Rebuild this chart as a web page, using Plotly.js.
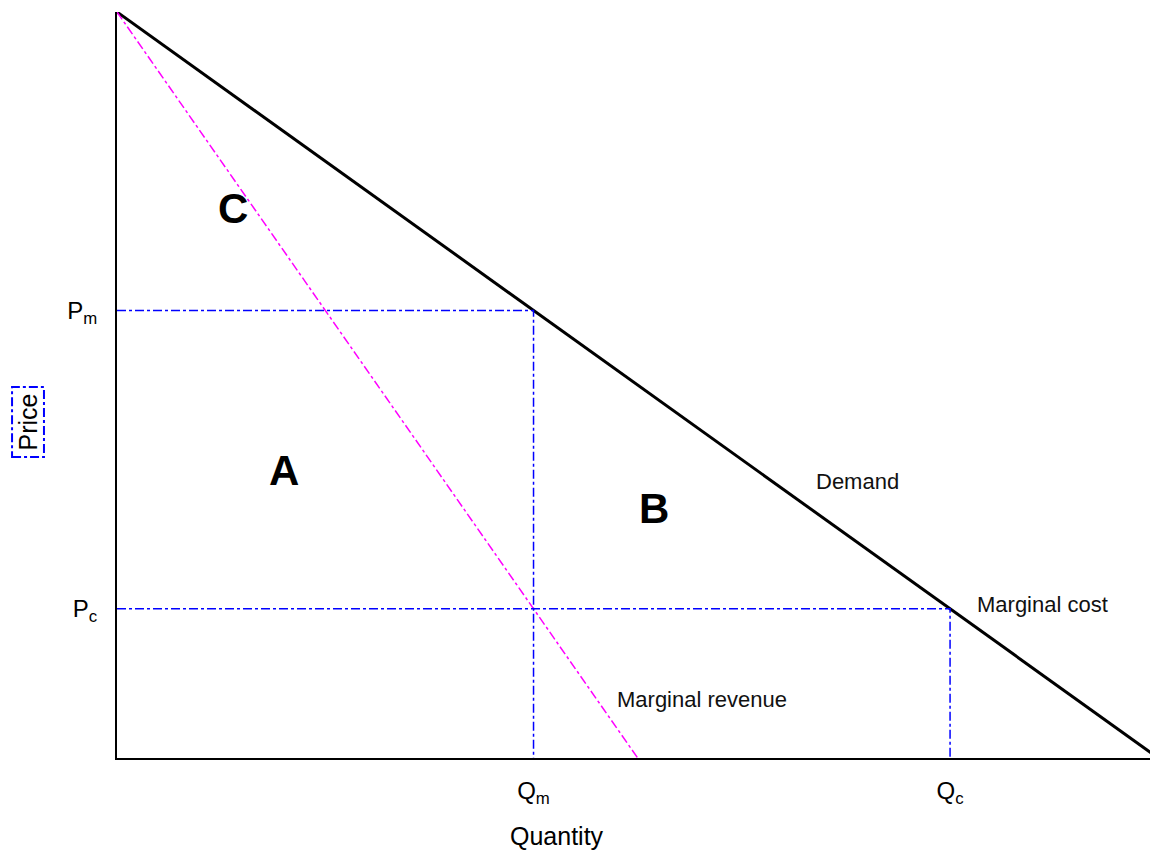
<!DOCTYPE html>
<html>
<head>
<meta charset="utf-8">
<script src="https://cdn.plot.ly/plotly-3.0.1.min.js"></script>
<style>body{margin:0;background:#fff}</style>
</head>
<body>
<div id="myDiv"></div>
<script>
// demand curve
var demandQ = [0, 1, 2, 3, 4, 5, 6, 7, 8, 9, 10];
var demandP = [10, 9, 8, 7, 6, 5, 4, 3, 2, 1, 0];
// marginal revenue
var mrQ = [0, 5];
var mrP = [10, 0];
// monopoly and competitive points
var Qm = 4, Pm = 6;
var Qc = 8, Pc = 2;

var blueDash = {color: '#0000ff', width: 1.5, dash: 'dashdot'};

var data = [
    {x: demandQ, y: demandP, mode: 'lines', line: {color: 'black', width: 3}, hoverinfo: 'skip'},
    {x: mrQ, y: mrP, mode: 'lines', line: {color: '#ff00ff', width: 1.5, dash: 'dashdot'}, hoverinfo: 'skip'},
    {x: [0, Qm, Qm], y: [Pm, Pm, 0], mode: 'lines', line: blueDash, hoverinfo: 'skip'},
    {x: [0, Qc, Qc], y: [Pc, Pc, 0], mode: 'lines', line: blueDash, hoverinfo: 'skip'}
];

var small = {family: 'Liberation Sans, Arial, sans-serif', size: 22, color: '#111'};
var big = {family: 'Liberation Sans, Arial, sans-serif', size: 42, color: 'black', weight: 'bold'};
var axisFont = {family: 'Liberation Sans, Arial, sans-serif', size: 25, color: 'black'};

var layout = {
    width: 1150,
    height: 852,
    showlegend: false,
    margin: {l: 117, r: 0, t: 12, b: 94},
    paper_bgcolor: 'white',
    plot_bgcolor: 'white',
    font: {family: 'Liberation Sans, Arial, sans-serif', size: 24, color: 'black'},
    xaxis: {
        range: [0, 9.92],
        showgrid: false, zeroline: false,
        showline: true, linecolor: 'black', linewidth: 2,
        tickvals: [Qm, Qc],
        ticktext: ['Q<sub>m</sub>', 'Q<sub>c</sub>'],
        tickfont: {size: 24},
        ticks: '', ticklabelstandoff: 10
    },
    yaxis: {
        range: [0, 10],
        showgrid: false, zeroline: false,
        showline: true, linecolor: 'black', linewidth: 2,
        tickvals: [Pc, Pm],
        ticktext: ['P<sub>c</sub>', 'P<sub>m</sub>'],
        tickfont: {size: 24},
        ticks: '', ticklabelstandoff: 13
    },
    shapes: [
        // dotted selection box round the Price label
        {type: 'rect', xref: 'paper', yref: 'paper', x0: -0.1016, x1: -0.0707, y0: 0.4035, y1: 0.4973,
         line: {color: '#0000ff', width: 2, dash: 'dashdot'}}
    ],
    annotations: [
        {x: 1.11, y: 7.36, text: 'C', showarrow: false, font: big},
        {x: 1.60, y: 3.85, text: 'A', showarrow: false, font: big},
        {x: 5.16, y: 3.35, text: 'B', showarrow: false, font: big},
        {x: 7.11, y: 3.71, text: 'Demand', showarrow: false, font: small},
        {x: 8.24, y: 2.06, text: 'Marginal cost', showarrow: false, xanchor: 'left', font: small},
        {x: 4.78, y: 0.78, text: 'Marginal revenue', showarrow: false, xanchor: 'left', font: small},
        {xref: 'paper', yref: 'paper', x: -0.0862, y: 0.451, text: 'Price', textangle: -90,
         xanchor: 'center', yanchor: 'middle', showarrow: false, font: axisFont},
        {xref: 'paper', yref: 'paper', x: 0.426, y: -0.1046, text: 'Quantity',
         xanchor: 'center', yanchor: 'middle', showarrow: false, font: axisFont}
    ]
};
Plotly.newPlot('myDiv', data, layout, {displayModeBar: false});
</script>
</body>
</html>
